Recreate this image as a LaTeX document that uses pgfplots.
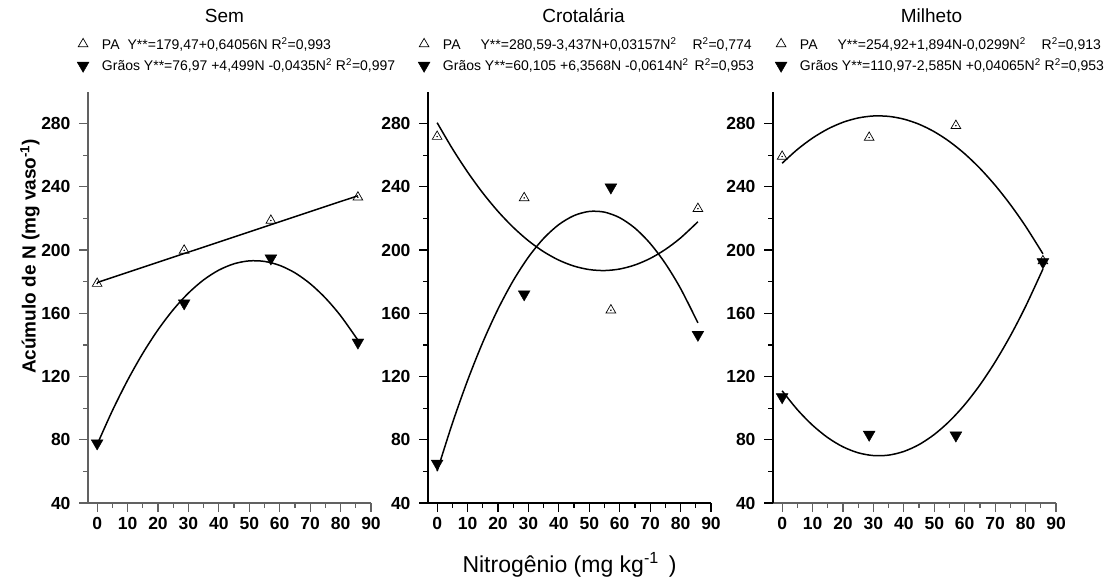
\documentclass[border=0pt]{standalone}
\usepackage{pgfplots}
\pgfplotsset{compat=1.18}
\usepackage{fontspec}
\setmainfont{Liberation Sans}

\pgfplotsset{
  painel/.style={
    scale only axis, width=283pt, height=411pt,
    xmin=-3, xmax=90, ymin=40, ymax=300,
    axis lines*=left,
    xtick={0,10,...,90}, ytick={40,80,...,280},
    minor x tick num=1, minor y tick num=1,
    tick align=outside, major tick length=9pt, minor tick length=5pt,
    tick style={black, line width=1.2pt},
    axis line style={line width=1.2pt},
    /pgf/number format/assume math mode=true,
    ticklabel style={font=\bfseries\fontsize{17.5}{18}\selectfont},
    yticklabel style={xshift=-5pt},
    xticklabel style={yshift=-2pt},
    title style={font=\fontsize{19}{21}\selectfont, anchor=center, at={(0.5,1)}, yshift=70pt},
    legend style={draw=none, fill=none, at={(0,1)}, anchor=north west,
      yshift=57pt, font=\fontsize{14}{16}\selectfont, row sep=4pt,
      inner sep=0pt, column sep=11pt},
    legend cell align=left,
    legend image code/.code={\draw[mark repeat=2,mark phase=2] plot coordinates {(0pt,0pt)(7pt,0pt)(14pt,0pt)};},
    clip=false,
  },
  pa/.style={black, only marks, mark=triangle, mark size=5.6pt, mark options={fill=white, draw=black, line width=0.7pt}},
  gr/.style={black, only marks, mark=triangle*, mark size=6.8pt, mark options={fill=black, draw=black, rotate=180}},
  ponto/.style={black, only marks, mark=*, mark size=0.5pt, forget plot},
  ajuste/.style={black, no marks, smooth, line width=1.5pt, forget plot},
}

\begin{document}
\begin{tikzpicture}

% ---- Sem ----
\begin{axis}[painel, at={(88pt,76pt)}, anchor=south west,
  axis line style={black!62}, tick style={black!62},
  title={Sem}, title style={xshift=-5pt},
  legend style={xshift=-11pt},
  ylabel={\textbf{Acúmulo de N (mg vaso\textsuperscript{-1})}},
  ylabel style={font=\fontsize{19}{21}\selectfont, at={(axis description cs:-0.205,0.60)}, anchor=center},
]
\addplot[ajuste] coordinates {(0,179.47) (85.7,234.37)};
\addplot[ajuste] coordinates {
 (0,76.97) (5,98.38) (10,117.61) (15,134.67) (20,149.55) (25,162.26)
 (30,172.79) (35,181.15) (40,187.33) (45,191.34) (50,193.17) (55,192.83)
 (60,190.31) (65,185.62) (70,178.75) (75,169.71) (80,158.49) (85.7,143.04)};
\addplot[pa] coordinates {(0,178.8) (28.6,199.8) (57.1,218.7) (85.7,233.4)};
\addlegendentry{PA\hspace{8pt}Y**=179,47+0,64056N R\textsuperscript{2}=0,993}
\addplot[gr] coordinates {(0,77.8) (28.6,166.4) (57.1,194.8) (85.7,141.6)};
\addlegendentry{Grãos Y**=76,97 +4,499N -0,0435N\textsuperscript{2} R\textsuperscript{2}=0,997}
\addplot[ponto] coordinates {(0,178.8) (28.6,199.8) (57.1,218.7) (85.7,233.4)};
\end{axis}

% ---- Crotalaria ----
\begin{axis}[painel, at={(428pt,76pt)}, anchor=south west,
  title={Crotalária}, title style={xshift=14pt},
  legend style={xshift=-10pt},
  xlabel={Nitrogênio (mg kg\textsuperscript{-1}\hspace{10pt})},
  xlabel style={font=\fontsize{23}{25}\selectfont, at={(axis description cs:0.5,-0.151)}, anchor=center},
]
\addplot[ajuste] coordinates {
 (0,280.59) (5,264.19) (10,249.38) (15,236.14) (20,224.48) (25,214.40)
 (30,205.89) (35,198.97) (40,193.62) (45,189.85) (50,187.67) (55,187.05)
 (60,188.02) (65,190.57) (70,194.69) (75,200.40) (80,207.68) (85.7,217.91)};
\addplot[ajuste] coordinates {
 (0,60.11) (5,90.35) (10,117.53) (15,141.64) (20,162.68) (25,180.65)
 (30,195.55) (35,207.38) (40,216.14) (45,221.83) (50,224.45) (55,224.00)
 (60,220.47) (65,213.88) (70,204.22) (75,191.49) (80,175.69) (85.7,153.94)};
\addplot[pa] coordinates {(0,271.8) (28.6,233.0) (57.1,162.0) (85.7,226.2)};
\addlegendentry{PA\hspace{20pt}Y**=280,59-3,437N+0,03157N\textsuperscript{2}\hspace{16pt}R\textsuperscript{2}=0,774}
\addplot[gr] coordinates {(0,65.0) (28.6,172.1) (57.1,239.7) (85.7,146.5)};
\addlegendentry{Grãos Y**=60,105 +6,3568N -0,0614N\textsuperscript{2}\hspace{6pt}R\textsuperscript{2}=0,953}
\addplot[ponto] coordinates {(0,271.8) (28.6,233.0) (57.1,162.0) (85.7,226.2)};
\end{axis}

% ---- Milheto ----
\begin{axis}[painel, at={(773pt,76pt)}, anchor=south west,
  x axis line style={black!62}, xtick style={black!62},
  title={Milheto}, title style={xshift=17pt},
  legend style={xshift=2pt},
]
\addplot[ajuste] coordinates {
 (0,254.92) (5,263.64) (10,270.87) (15,276.60) (20,280.84) (25,283.58)
 (30,284.83) (35,284.58) (40,282.84) (45,279.60) (50,274.87) (55,268.64)
 (60,260.92) (65,251.70) (70,240.99) (75,228.78) (80,215.08) (85.7,197.64)};
\addplot[ajuste] coordinates {
 (0,110.97) (5,99.06) (10,89.19) (15,81.34) (20,75.53) (25,71.75)
 (30,70.01) (35,70.29) (40,72.61) (45,76.96) (50,83.35) (55,91.76)
 (60,102.21) (65,114.69) (70,129.21) (75,145.75) (80,164.33) (85.7,187.99)};
\addplot[pa] coordinates {(0,259.2) (28.6,271.2) (57.1,278.7) (85.7,193.1)};
\addlegendentry{PA\hspace{20pt}Y**=254,92+1,894N-0,0299N\textsuperscript{2}\hspace{16pt}R\textsuperscript{2}=0,913}
\addplot[gr] coordinates {(0,107.0) (28.6,83.3) (57.1,82.8) (85.7,192.4)};
\addlegendentry{Grãos Y**=110,97-2,585N +0,04065N\textsuperscript{2}\hspace{4pt}R\textsuperscript{2}=0,953}
\addplot[ponto] coordinates {(0,259.2) (28.6,271.2) (57.1,278.7) (85.7,193.1)};
\end{axis}

\pgfresetboundingbox
\path[use as bounding box] (0,0) rectangle (1118pt,579pt);
\end{tikzpicture}
\end{document}
